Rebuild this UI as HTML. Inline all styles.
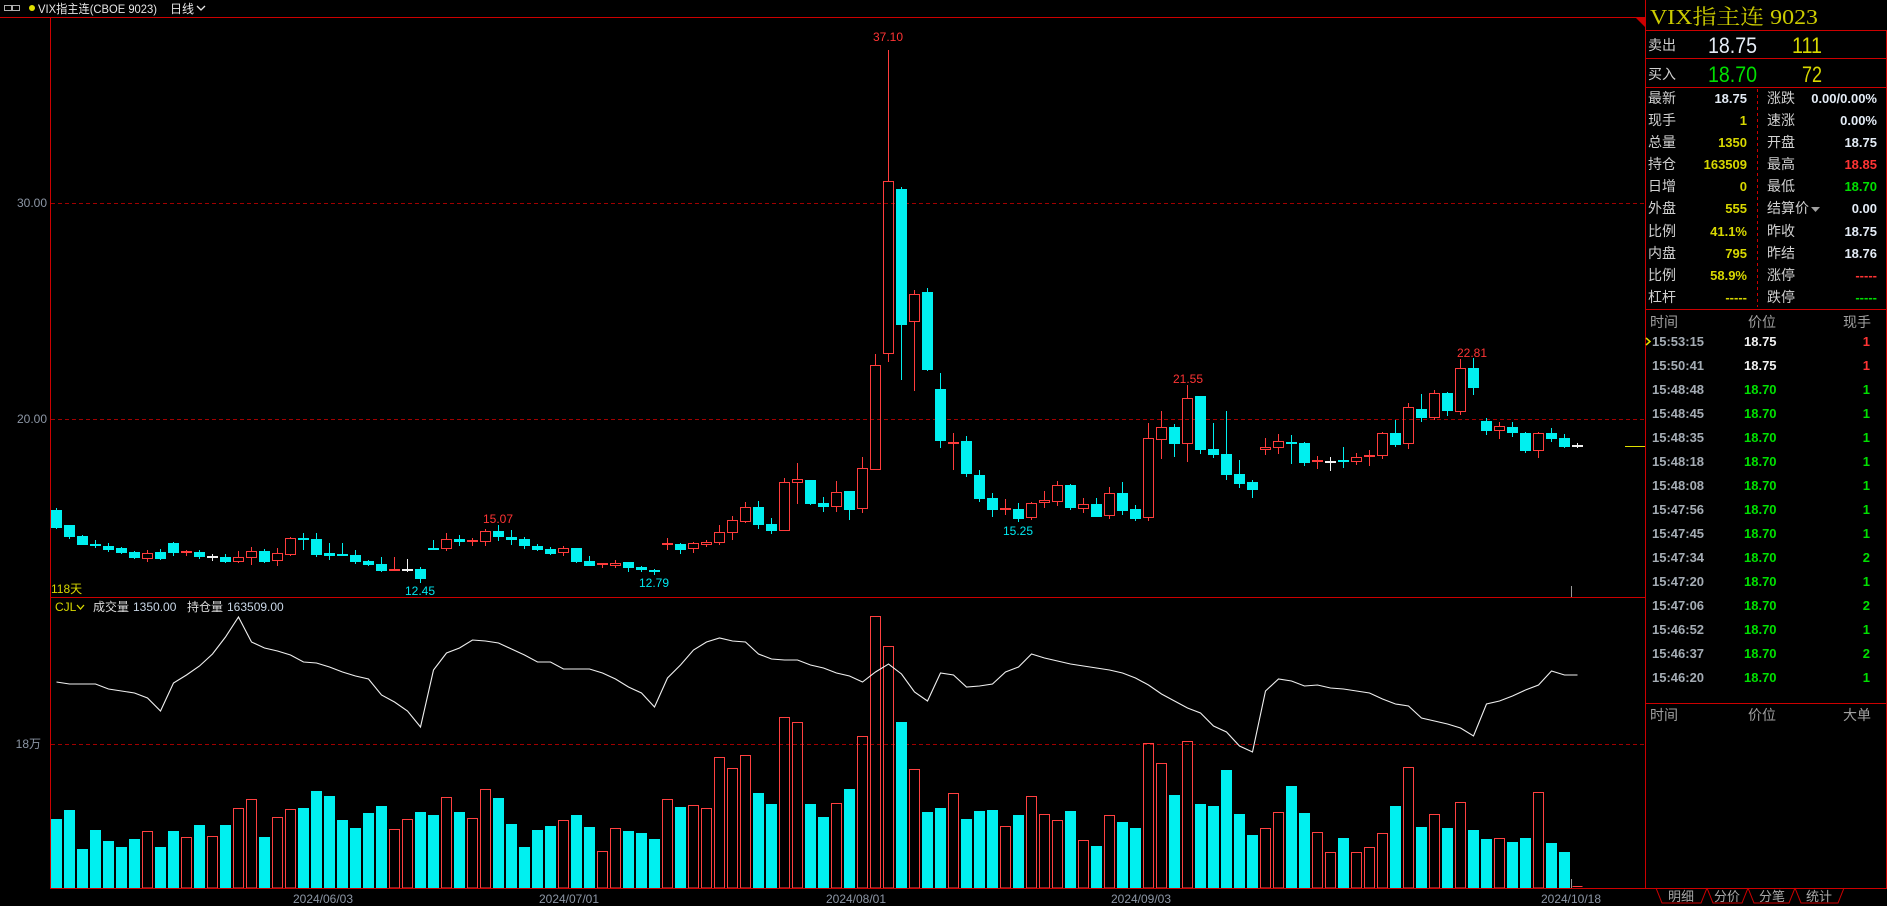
<!DOCTYPE html>
<html><head><meta charset="utf-8">
<style>
html,body{margin:0;padding:0;background:#000;overflow:hidden}
svg{display:block}
text{font-family:"Liberation Sans","Noto Sans CJK SC",sans-serif;}
.f12{font-size:12px}
.f13b{font-size:13px;font-weight:bold}
.f14{font-size:14px}
.ax{fill:#8c96a5}
.lab{fill:#d0d0d0;font-size:14px}
.hd{fill:#a0a0a0;font-size:14px}
.yl{fill:#d8d800}
.wb{fill:#e4ecf6}
.gr{fill:#00e000}
.rd{fill:#ff3434}
.cy{fill:#00e8f0}
.tm{fill:#a4acb4}
</style></head>
<body>
<svg width="1887" height="906" viewBox="0 0 1887 906" xmlns="http://www.w3.org/2000/svg">
<rect x="0" y="0" width="1887" height="906" fill="#000"/>

<!-- header -->
<g shape-rendering="crispEdges" fill="none" stroke="#b0b0b0">
<rect x="4.5" y="5.5" width="7" height="5"/>
<rect x="12.5" y="5.5" width="7" height="5"/>
</g>
<circle cx="32" cy="8" r="3" fill="#e0e000"/>
<text x="38" y="13" class="f12" fill="#e6e6e6" textLength="119" lengthAdjust="spacingAndGlyphs">VIX指主连(CBOE 9023)</text>
<text x="170" y="13" class="f12" fill="#e6e6e6">日线</text>
<polyline points="197,6 201,10 205,6" fill="none" stroke="#e6e6e6" stroke-width="1.3"/>

<!-- grid dashed -->
<g shape-rendering="crispEdges" stroke="#a00000" stroke-dasharray="4 3" fill="none">
<path d="M51 203.5H1645M51 419.5H1645M51 744.5H1645"/>
</g>

<!-- axis labels -->
<text x="47" y="207" class="f12 ax" text-anchor="end">30.00</text>
<text x="47" y="423" class="f12 ax" text-anchor="end">20.00</text>
<text x="41" y="748" class="f12 ax" text-anchor="end">18万</text>

<!-- candles -->
<g shape-rendering="crispEdges">
<path fill="none" stroke="#00f0f0" d="M56.5 508V529M69.5 525V539M82.5 535V545M95.5 540V548M108.5 543V552M121.5 547V554M134.5 551V559M160.5 549V560M173.5 542V556M199.5 550V559M225.5 554V563M264.5 549V563M303.5 533V550M316.5 533V557M329.5 543V560M342.5 543V556M355.5 550V564M368.5 560V566M381.5 557V572M420.5 567V583M433.5 540V550M459.5 535V546M498.5 525V541M511.5 530V545M524.5 537V549M537.5 544V551M550.5 547V555M576.5 548V563M589.5 556V566M628.5 562V572M641.5 566V572M654.5 569V575M680.5 543V554M758.5 501V529M771.5 518V534M810.5 480V505M823.5 497V512M849.5 491V520M901.5 187V380M927.5 288V371M940.5 373V448M966.5 436V477M979.5 470V502M992.5 493V517M1018.5 503V522M1070.5 484V510M1096.5 498V517M1122.5 482V515M1135.5 505V521M1174.5 424V457M1200.5 396V454M1213.5 423V458M1226.5 411V480M1239.5 460V488M1252.5 480V498M1291.5 435V464M1304.5 442V466M1343.5 447V468M1395.5 420V447M1421.5 394V422M1447.5 392V416M1473.5 358V395M1486.5 418V435M1512.5 422V437M1525.5 432V453M1551.5 428V442M1564.5 434V448"/>
<path fill="#00f0f0" d="M51 510h11v18h-11zM64 525h11v12h-11zM77 536h11v9h-11zM90 544h11v2h-11zM103 546h11v4h-11zM116 548h11v5h-11zM129 552h11v6h-11zM155 552h11v7h-11zM168 543h11v10h-11zM194 552h11v5h-11zM220 557h11v5h-11zM259 551h11v11h-11zM298 538h11v2h-11zM311 539h11v16h-11zM324 553h11v3h-11zM337 554h11v2h-11zM350 555h11v7h-11zM363 561h11v4h-11zM376 564h11v7h-11zM415 569h11v10h-11zM428 548h11v2h-11zM454 539h11v3h-11zM493 531h11v6h-11zM506 537h11v3h-11zM519 539h11v7h-11zM532 546h11v4h-11zM545 549h11v5h-11zM571 548h11v14h-11zM584 561h11v5h-11zM623 562h11v6h-11zM636 567h11v3h-11zM649 570h11v2h-11zM675 544h11v6h-11zM753 507h11v18h-11zM766 524h11v7h-11zM805 480h11v24h-11zM818 503h11v4h-11zM844 491h11v19h-11zM896 189h11v136h-11zM922 292h11v78h-11zM935 389h11v52h-11zM961 441h11v33h-11zM974 475h11v24h-11zM987 498h11v12h-11zM1013 509h11v10h-11zM1065 485h11v23h-11zM1091 504h11v13h-11zM1117 493h11v18h-11zM1130 509h11v10h-11zM1169 427h11v17h-11zM1195 396h11v54h-11zM1208 449h11v6h-11zM1221 454h11v21h-11zM1234 474h11v10h-11zM1247 482h11v8h-11zM1286 442h11v2h-11zM1299 443h11v20h-11zM1338 460h11v2h-11zM1390 433h11v12h-11zM1416 409h11v9h-11zM1442 393h11v18h-11zM1468 368h11v20h-11zM1481 421h11v10h-11zM1507 427h11v6h-11zM1520 433h11v18h-11zM1546 433h11v6h-11zM1559 438h11v9h-11z"/>
<path fill="none" stroke="#ff3c3c" d="M147.5 550V553M147.5 559V562M238.5 551V557M238.5 562V563M251.5 547V551M251.5 558V565M277.5 548V553M277.5 561V566M290.5 537V538M290.5 555V556M446.5 533V539M446.5 549V551M485.5 529V531M485.5 542V546M563.5 546V548M563.5 553V556M615.5 560V563M615.5 566V568M693.5 542V543M693.5 549V553M706.5 540V542M706.5 545V547M719.5 525V532M719.5 543V545M732.5 516V520M732.5 533V540M745.5 502V507M745.5 522V523M784.5 478V482M797.5 463V479M797.5 483V504M836.5 481V492M836.5 507V512M862.5 457V468M862.5 509V513M875.5 354V365M888.5 50V181M888.5 354V362M914.5 290V294M914.5 322V391M1031.5 502V503M1031.5 518V520M1044.5 491V500M1044.5 503V508M1057.5 481V485M1057.5 502V506M1083.5 498V504M1083.5 509V513M1109.5 487V493M1109.5 516V519M1148.5 423V438M1148.5 518V521M1161.5 411V427M1161.5 440V459M1187.5 385V398M1187.5 444V462M1265.5 438V447M1265.5 450V455M1278.5 434V441M1278.5 448V454M1356.5 453V457M1356.5 462V465M1382.5 432V433M1382.5 456V459M1408.5 403V407M1408.5 444V449M1434.5 390V393M1434.5 418V420M1460.5 359V368M1460.5 412V415M1499.5 422V426M1499.5 431V439M1538.5 432V433M1538.5 451V458M186.5 550V556M394.5 557V571M472.5 538V546M602.5 563V568M667.5 538V550M953.5 433V470M1005.5 499V515M1317.5 456V469M1369.5 450V466"/>
<path fill="none" stroke="#ff3c3c" d="M142.5 553.5h10v5h-10zM233.5 557.5h10v4h-10zM246.5 551.5h10v6h-10zM272.5 553.5h10v7h-10zM285.5 538.5h10v16h-10zM441.5 539.5h10v9h-10zM480.5 531.5h10v10h-10zM558.5 548.5h10v4h-10zM610.5 563.5h10v2h-10zM688.5 543.5h10v5h-10zM701.5 542.5h10v2h-10zM714.5 532.5h10v10h-10zM727.5 520.5h10v12h-10zM740.5 507.5h10v14h-10zM779.5 482.5h10v48h-10zM792.5 479.5h10v3h-10zM831.5 492.5h10v14h-10zM857.5 468.5h10v40h-10zM870.5 365.5h10v104h-10zM883.5 181.5h10v172h-10zM909.5 294.5h10v27h-10zM1026.5 503.5h10v14h-10zM1039.5 500.5h10v2h-10zM1052.5 485.5h10v16h-10zM1078.5 504.5h10v4h-10zM1104.5 493.5h10v22h-10zM1143.5 438.5h10v79h-10zM1156.5 427.5h10v12h-10zM1182.5 398.5h10v45h-10zM1260.5 447.5h10v2h-10zM1273.5 441.5h10v6h-10zM1351.5 457.5h10v4h-10zM1377.5 433.5h10v22h-10zM1403.5 407.5h10v36h-10zM1429.5 393.5h10v24h-10zM1455.5 368.5h10v43h-10zM1494.5 426.5h10v4h-10zM1533.5 433.5h10v17h-10z"/>
<path fill="#ff3c3c" d="M181 551h11v2h-11zM389 569h11v2h-11zM467 540h11v2h-11zM597 563h11v2h-11zM662 543h11v2h-11zM948 442h11v2h-11zM1000 508h11v2h-11zM1312 460h11v2h-11zM1364 455h11v2h-11z"/>
<path fill="none" stroke="#f0f0f0" d="M212.5 554V561M407.5 559V572M1330.5 457V471M1577.5 443V448"/>
<path fill="#f0f0f0" d="M207 556h11v2h-11zM402 569h11v2h-11zM1325 461h11v2h-11zM1572 445h11v2h-11z"/>
</g>

<!-- price labels -->
<text x="888" y="41" class="f12 rd" text-anchor="middle">37.10</text>
<text x="498" y="523" class="f12 rd" text-anchor="middle">15.07</text>
<text x="420" y="595" class="f12 cy" text-anchor="middle">12.45</text>
<text x="654" y="587" class="f12 cy" text-anchor="middle">12.79</text>
<text x="1018" y="535" class="f12 cy" text-anchor="middle">15.25</text>
<text x="1188" y="383" class="f12 rd" text-anchor="middle">21.55</text>
<text x="1472" y="357" class="f12 rd" text-anchor="middle">22.81</text>
<text x="51" y="593" class="f12 yl">118天</text>

<!-- current price line -->
<path d="M1625 446.5H1645" stroke="#e0e000" shape-rendering="crispEdges"/>
<path d="M1571.5 586V597M1571.5 879V888" stroke="#9a9a9a" shape-rendering="crispEdges"/>

<!-- sub chart header -->
<text x="55" y="611" class="f12 yl">CJL</text>
<polyline points="77,605 80.5,609 84,605" fill="none" stroke="#d8d800" stroke-width="1.3"/>
<text x="93" y="611" class="f12" fill="#dcdcdc">成交量</text>
<text x="133" y="611" class="f12" fill="#c8d6e6">1350.00</text>
<text x="187" y="611" class="f12" fill="#dcdcdc">持仓量</text>
<text x="227" y="611" class="f12" fill="#c8d6e6">163509.00</text>

<!-- volume -->
<g shape-rendering="crispEdges">
<path fill="#00f0f0" d="M51 819h11V888h-11zM64 810h11V888h-11zM77 849h11V888h-11zM90 830h11V888h-11zM103 841h11V888h-11zM116 847h11V888h-11zM129 839h11V888h-11zM155 847h11V888h-11zM168 831h11V888h-11zM194 825h11V888h-11zM220 825h11V888h-11zM259 837h11V888h-11zM298 808h11V888h-11zM311 791h11V888h-11zM324 796h11V888h-11zM337 820h11V888h-11zM350 828h11V888h-11zM363 813h11V888h-11zM376 806h11V888h-11zM415 812h11V888h-11zM428 815h11V888h-11zM454 812h11V888h-11zM493 798h11V888h-11zM506 824h11V888h-11zM519 847h11V888h-11zM532 830h11V888h-11zM545 826h11V888h-11zM571 815h11V888h-11zM584 827h11V888h-11zM623 831h11V888h-11zM636 833h11V888h-11zM649 839h11V888h-11zM675 807h11V888h-11zM753 793h11V888h-11zM766 804h11V888h-11zM805 804h11V888h-11zM818 817h11V888h-11zM844 789h11V888h-11zM896 722h11V888h-11zM922 812h11V888h-11zM935 808h11V888h-11zM961 819h11V888h-11zM974 811h11V888h-11zM987 810h11V888h-11zM1013 815h11V888h-11zM1065 811h11V888h-11zM1091 846h11V888h-11zM1117 822h11V888h-11zM1130 828h11V888h-11zM1169 795h11V888h-11zM1195 804h11V888h-11zM1208 806h11V888h-11zM1221 770h11V888h-11zM1234 814h11V888h-11zM1247 835h11V888h-11zM1286 786h11V888h-11zM1299 813h11V888h-11zM1338 838h11V888h-11zM1390 806h11V888h-11zM1416 827h11V888h-11zM1442 828h11V888h-11zM1468 830h11V888h-11zM1481 839h11V888h-11zM1507 842h11V888h-11zM1520 838h11V888h-11zM1546 843h11V888h-11zM1559 852h11V888h-11z"/>
<path fill="none" stroke="#ff4040" d="M142.5 831.5h10V888h-10zM181.5 837.5h10V888h-10zM207.5 836.5h10V888h-10zM233.5 808.5h10V888h-10zM246.5 799.5h10V888h-10zM272.5 817.5h10V888h-10zM285.5 809.5h10V888h-10zM389.5 829.5h10V888h-10zM402.5 819.5h10V888h-10zM441.5 797.5h10V888h-10zM467.5 818.5h10V888h-10zM480.5 789.5h10V888h-10zM558.5 820.5h10V888h-10zM597.5 851.5h10V888h-10zM610.5 828.5h10V888h-10zM662.5 799.5h10V888h-10zM688.5 805.5h10V888h-10zM701.5 808.5h10V888h-10zM714.5 757.5h10V888h-10zM727.5 768.5h10V888h-10zM740.5 755.5h10V888h-10zM779.5 717.5h10V888h-10zM792.5 722.5h10V888h-10zM831.5 803.5h10V888h-10zM857.5 736.5h10V888h-10zM870.5 616.5h10V888h-10zM883.5 646.5h10V888h-10zM909.5 769.5h10V888h-10zM948.5 793.5h10V888h-10zM1000.5 826.5h10V888h-10zM1026.5 796.5h10V888h-10zM1039.5 814.5h10V888h-10zM1052.5 820.5h10V888h-10zM1078.5 840.5h10V888h-10zM1104.5 815.5h10V888h-10zM1143.5 743.5h10V888h-10zM1156.5 763.5h10V888h-10zM1182.5 741.5h10V888h-10zM1260.5 828.5h10V888h-10zM1273.5 812.5h10V888h-10zM1312.5 832.5h10V888h-10zM1325.5 852.5h10V888h-10zM1351.5 852.5h10V888h-10zM1364.5 847.5h10V888h-10zM1377.5 833.5h10V888h-10zM1403.5 767.5h10V888h-10zM1429.5 814.5h10V888h-10zM1455.5 802.5h10V888h-10zM1494.5 838.5h10V888h-10zM1533.5 792.5h10V888h-10zM1572.5 886.5h10"/>
</g>

<!-- open interest line -->
<polyline fill="none" stroke="#f0f0f0" stroke-width="1.1" points="56.5,682 69.5,684 82.5,684 95.5,684 108.5,689 121.5,691 134.5,693 147.5,698 160.5,711 173.5,683 186.5,675 199.5,666 212.5,654 225.5,637 238.5,617 251.5,642 264.5,648 277.5,651 290.5,655 303.5,662 316.5,663 329.5,667 342.5,672 355.5,676 368.5,679 381.5,695 394.5,702 407.5,711 420.5,727 433.5,670 446.5,653 459.5,648 472.5,640 485.5,641 498.5,643 511.5,649 524.5,655 537.5,662 550.5,662 563.5,669 576.5,669 589.5,669 602.5,673 615.5,679 628.5,687 641.5,693 654.5,707 667.5,678 680.5,665 693.5,650 706.5,642 719.5,638 732.5,641 745.5,642 758.5,654 771.5,659 784.5,660 797.5,660 810.5,665 823.5,668 836.5,673 849.5,676 862.5,682 875.5,672 888.5,664 901.5,674 914.5,692 927.5,701 940.5,673 953.5,675 966.5,687 979.5,686 992.5,684 1005.5,672 1018.5,667 1031.5,654 1044.5,658 1057.5,661 1070.5,664 1083.5,666 1096.5,668 1109.5,670 1122.5,673 1135.5,678 1148.5,685 1161.5,694 1174.5,701 1187.5,708 1200.5,713 1213.5,726 1226.5,732 1239.5,746 1252.5,752 1265.5,691 1278.5,679 1291.5,681 1304.5,686 1317.5,685 1330.5,688 1343.5,689 1356.5,691 1369.5,693 1382.5,699 1395.5,704 1408.5,706 1421.5,718 1434.5,721 1447.5,724 1460.5,728 1473.5,736 1486.5,704 1499.5,701 1512.5,696 1525.5,690 1538.5,685 1551.5,671 1564.5,675 1577.5,675"/>

<!-- date labels -->
<text x="323" y="903" class="f12 ax" text-anchor="middle">2024/06/03</text>
<text x="569" y="903" class="f12 ax" text-anchor="middle">2024/07/01</text>
<text x="856" y="903" class="f12 ax" text-anchor="middle">2024/08/01</text>
<text x="1141" y="903" class="f12 ax" text-anchor="middle">2024/09/03</text>
<text x="1571" y="903" class="f12 ax" text-anchor="middle">2024/10/18</text>

<!-- frame lines -->
<g shape-rendering="crispEdges" stroke="#cc0000" fill="none">
<path d="M0 17.5H1645M50.5 17V888M50 597.5H1645M50 888.5H1887M1645.5 0V888M1645 30.5H1887M1645 58.5H1887M1645 87.5H1887M1645 309.5H1887M1645 703.5H1887M1886.5 30V888"/>
</g>
<polygon points="1635,17 1645,17 1645,27" fill="#cc0000"/>
<path d="M1757.5 89V307" stroke="#cc0000" stroke-dasharray="3 3" shape-rendering="crispEdges"/>

<!-- right panel -->
<text x="1650" y="24" style="font-family:'Liberation Serif','Noto Serif CJK SC',serif;font-size:21px" fill="#cccc00" textLength="168" lengthAdjust="spacingAndGlyphs">VIX指主连 9023</text>

<text x="1648" y="50" class="lab">卖出</text>
<text x="1708" y="53" style="font-size:22px" class="wb" textLength="49" lengthAdjust="spacingAndGlyphs">18.75</text>
<text x="1792" y="53" style="font-size:22px" class="yl" textLength="30" lengthAdjust="spacingAndGlyphs">111</text>
<text x="1648" y="79" class="lab">买入</text>
<text x="1708" y="82" style="font-size:22px" class="gr" textLength="49" lengthAdjust="spacingAndGlyphs">18.70</text>
<text x="1802" y="82" style="font-size:22px" class="yl" textLength="20" lengthAdjust="spacingAndGlyphs">72</text>

<g>
<text x="1648" y="103" class="lab">最新</text><text x="1747" y="103" class="f13b wb" text-anchor="end">18.75</text>
<text x="1767" y="103" class="lab">涨跌</text><text x="1877" y="103" class="f13b wb" text-anchor="end">0.00/0.00%</text>
<text x="1648" y="125" class="lab">现手</text><text x="1747" y="125" class="f13b yl" text-anchor="end">1</text>
<text x="1767" y="125" class="lab">速涨</text><text x="1877" y="125" class="f13b wb" text-anchor="end">0.00%</text>
<text x="1648" y="147" class="lab">总量</text><text x="1747" y="147" class="f13b yl" text-anchor="end">1350</text>
<text x="1767" y="147" class="lab">开盘</text><text x="1877" y="147" class="f13b wb" text-anchor="end">18.75</text>
<text x="1648" y="169" class="lab">持仓</text><text x="1747" y="169" class="f13b yl" text-anchor="end">163509</text>
<text x="1767" y="169" class="lab">最高</text><text x="1877" y="169" class="f13b rd" text-anchor="end">18.85</text>
<text x="1648" y="191" class="lab">日增</text><text x="1747" y="191" class="f13b yl" text-anchor="end">0</text>
<text x="1767" y="191" class="lab">最低</text><text x="1877" y="191" class="f13b gr" text-anchor="end">18.70</text>
<text x="1648" y="213" class="lab">外盘</text><text x="1747" y="213" class="f13b yl" text-anchor="end">555</text>
<text x="1767" y="213" class="lab">结算价</text><text x="1877" y="213" class="f13b wb" text-anchor="end">0.00</text>
<polygon points="1811,207 1820,207 1815.5,212" fill="#a0a0a0"/>
<text x="1648" y="236" class="lab">比例</text><text x="1747" y="236" class="f13b yl" text-anchor="end">41.1%</text>
<text x="1767" y="236" class="lab">昨收</text><text x="1877" y="236" class="f13b wb" text-anchor="end">18.75</text>
<text x="1648" y="258" class="lab">内盘</text><text x="1747" y="258" class="f13b yl" text-anchor="end">795</text>
<text x="1767" y="258" class="lab">昨结</text><text x="1877" y="258" class="f13b wb" text-anchor="end">18.76</text>
<text x="1648" y="280" class="lab">比例</text><text x="1747" y="280" class="f13b yl" text-anchor="end">58.9%</text>
<text x="1767" y="280" class="lab">涨停</text><text x="1877" y="280" class="f13b rd" text-anchor="end">-----</text>
<text x="1648" y="302" class="lab">杠杆</text><text x="1747" y="302" class="f13b yl" text-anchor="end">-----</text>
<text x="1767" y="302" class="lab">跌停</text><text x="1877" y="302" class="f13b gr" text-anchor="end">-----</text>
</g>

<text x="1650" y="327" class="hd">时间</text>
<text x="1748" y="327" class="hd">价位</text>
<text x="1843" y="327" class="hd">现手</text>

<polyline points="1646,338 1650,341.5 1646,345" fill="none" stroke="#e0e000" stroke-width="1.5"/>
<g>
<text x="1652" y="346" class="f13b tm">15:53:15</text><text x="1744" y="346" class="f13b" fill="#f0f0f0">18.75</text><text x="1870" y="346" class="f13b rd" text-anchor="end">1</text>
<text x="1652" y="370" class="f13b tm">15:50:41</text><text x="1744" y="370" class="f13b" fill="#f0f0f0">18.75</text><text x="1870" y="370" class="f13b rd" text-anchor="end">1</text>
<text x="1652" y="394" class="f13b tm">15:48:48</text><text x="1744" y="394" class="f13b gr">18.70</text><text x="1870" y="394" class="f13b gr" text-anchor="end">1</text>
<text x="1652" y="418" class="f13b tm">15:48:45</text><text x="1744" y="418" class="f13b gr">18.70</text><text x="1870" y="418" class="f13b gr" text-anchor="end">1</text>
<text x="1652" y="442" class="f13b tm">15:48:35</text><text x="1744" y="442" class="f13b gr">18.70</text><text x="1870" y="442" class="f13b gr" text-anchor="end">1</text>
<text x="1652" y="466" class="f13b tm">15:48:18</text><text x="1744" y="466" class="f13b gr">18.70</text><text x="1870" y="466" class="f13b gr" text-anchor="end">1</text>
<text x="1652" y="490" class="f13b tm">15:48:08</text><text x="1744" y="490" class="f13b gr">18.70</text><text x="1870" y="490" class="f13b gr" text-anchor="end">1</text>
<text x="1652" y="514" class="f13b tm">15:47:56</text><text x="1744" y="514" class="f13b gr">18.70</text><text x="1870" y="514" class="f13b gr" text-anchor="end">1</text>
<text x="1652" y="538" class="f13b tm">15:47:45</text><text x="1744" y="538" class="f13b gr">18.70</text><text x="1870" y="538" class="f13b gr" text-anchor="end">1</text>
<text x="1652" y="562" class="f13b tm">15:47:34</text><text x="1744" y="562" class="f13b gr">18.70</text><text x="1870" y="562" class="f13b gr" text-anchor="end">2</text>
<text x="1652" y="586" class="f13b tm">15:47:20</text><text x="1744" y="586" class="f13b gr">18.70</text><text x="1870" y="586" class="f13b gr" text-anchor="end">1</text>
<text x="1652" y="610" class="f13b tm">15:47:06</text><text x="1744" y="610" class="f13b gr">18.70</text><text x="1870" y="610" class="f13b gr" text-anchor="end">2</text>
<text x="1652" y="634" class="f13b tm">15:46:52</text><text x="1744" y="634" class="f13b gr">18.70</text><text x="1870" y="634" class="f13b gr" text-anchor="end">1</text>
<text x="1652" y="658" class="f13b tm">15:46:37</text><text x="1744" y="658" class="f13b gr">18.70</text><text x="1870" y="658" class="f13b gr" text-anchor="end">2</text>
<text x="1652" y="682" class="f13b tm">15:46:20</text><text x="1744" y="682" class="f13b gr">18.70</text><text x="1870" y="682" class="f13b gr" text-anchor="end">1</text>
</g>

<text x="1650" y="720" class="hd">时间</text>
<text x="1748" y="720" class="hd">价位</text>
<text x="1843" y="720" class="hd">大单</text>

<!-- tabs -->
<g fill="none" stroke="#cc0000">
<polyline points="1656,888 1662,903 1701,903 1707,888"/>
<polyline points="1707,888 1713,903 1742,903 1748,888"/>
<polyline points="1748,888 1754,903 1789,903 1795,888"/>
<polyline points="1795,888 1801,903 1838,903 1844,888"/>
</g>
<text x="1681" y="901" style="font-size:13px" fill="#a8a8a8" text-anchor="middle">明细</text>
<text x="1727" y="901" style="font-size:13px" fill="#a8a8a8" text-anchor="middle">分价</text>
<text x="1772" y="901" style="font-size:13px" fill="#a8a8a8" text-anchor="middle">分笔</text>
<text x="1819" y="901" style="font-size:13px" fill="#a8a8a8" text-anchor="middle">统计</text>
</svg>
</body></html>
